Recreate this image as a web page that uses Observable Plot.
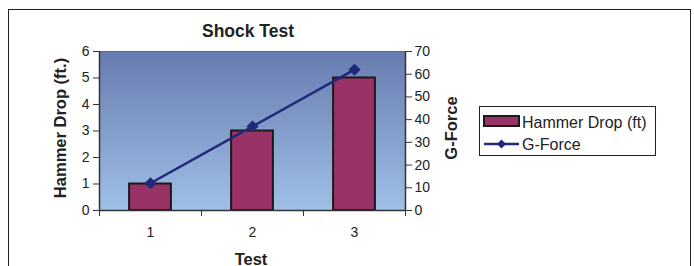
<!DOCTYPE html>
<html><head><meta charset="utf-8">
<script src="https://cdn.jsdelivr.net/npm/d3@7"></script>
<script src="https://cdn.jsdelivr.net/npm/@observablehq/plot@0.6"></script>
<style>
body{margin:0;background:#fff;font-family:Arial,"Liberation Sans",sans-serif;color:#222;}
#wrap{position:relative;width:694px;height:266px;overflow:hidden;}
#border{position:absolute;left:8px;top:9px;width:683px;height:320px;border:1px solid #222;box-sizing:border-box;}
.lbl{position:absolute;font-weight:bold;font-size:16.5px;white-space:nowrap;line-height:1;}
#title{font-size:17.5px;left:248px;top:23px;transform:translateX(-50%);}
#xl{left:251px;top:251px;transform:translateX(-50%);}
#yl{left:60px;top:128px;transform:translate(-50%,-50%) rotate(-90deg);}
#yr{left:451px;top:128px;transform:translate(-50%,-50%) rotate(-90deg);}
#legend{position:absolute;left:479px;top:106px;width:177px;height:50px;border:1px solid #222;box-sizing:border-box;background:#fff;}
#legend svg{position:absolute;left:0;top:0;}
#chart{position:absolute;left:0;top:0;}
</style></head>
<body>
<div id="wrap">
  <div id="border"></div>
  <div id="chart"></div>
  <div class="lbl" id="title">Shock Test</div>
  <div class="lbl" id="xl">Test</div>
  <div class="lbl" id="yl">Hammer Drop (ft.)</div>
  <div class="lbl" id="yr">G-Force</div>
  <div id="legend"></div>
</div>
<script>
const tests = [1, 2, 3];
const hammerDrop = [1, 3, 5];
const gForce = [12, 37, 62];
const leftTicks = [0, 1, 2, 3, 4, 5, 6];
const rightTicks = [0, 10, 20, 30, 40, 50, 60, 70];
const seriesNames = ["Hammer Drop (ft)", "G-Force"];

const barColor = "#993366";
const lineColor = "#22287a";
const k = 6 / 70;
const data = tests.map((t, i) => ({test: t, hammer: hammerDrop[i], g: gForce[i]}));
const bounds = [0.5, 1.5, 2.5, 3.5];

const defs = () => {
  const d = d3.create("svg:defs");
  d.html(`<linearGradient id="bg" x1="0" y1="0" x2="0" y2="1"><stop offset="0" stop-color="#687bb0"/><stop offset="1" stop-color="#9fc0e7"/></linearGradient>`);
  return d.node();
};

const chart = Plot.plot({
  width: 694, height: 266,
  marginLeft: 99, marginRight: 289, marginTop: 51, marginBottom: 56,
  style: {fontFamily: "Arial, 'Liberation Sans', sans-serif", fontSize: "14px", color: "#222", background: "transparent"},
  x: {type: "linear", domain: [0.5, 3.5]},
  y: {domain: [0, 6]},
  marks: [
    defs,
    Plot.frame({fill: "url(#bg)", stroke: "#666"}),
    Plot.rectY(data, {x1: d => d.test - 0.205, x2: d => d.test + 0.205, y: "hammer", fill: barColor, stroke: "#1a1a1a", strokeWidth: 2}),
    Plot.line(data, {x: "test", y: d => d.g * k, stroke: lineColor, strokeWidth: 2.5}),
    Plot.dot(data, {x: "test", y: d => d.g * k, symbol: "diamond2", fill: lineColor, stroke: lineColor, r: 4.5}),
    Plot.axisY({ticks: leftTicks, tickSize: 6, tickPadding: 4, label: null, fontSize: 14, tickFormat: d => String(d), stroke: "#333"}),
    Plot.axisY({anchor: "right", ticks: rightTicks.map(v => v * k), tickFormat: d => String(Math.round(d / k)), tickSize: 6, tickPadding: 3, label: null, fontSize: 14, stroke: "#333"}),
    Plot.axisX({ticks: tests, tickSize: 0, tickPadding: 17, label: null, fontSize: 14, tickFormat: d => String(d)}),
    Plot.axisX({ticks: bounds, tickSize: 6, tickFormat: () => "", label: null, stroke: "#333"}),
    Plot.ruleY([0], {stroke: "#333", strokeWidth: 1.5}),
    Plot.ruleX([0.5, 3.5], {stroke: "#333", strokeWidth: 1.5})
  ]
});
document.getElementById("chart").appendChild(chart);

// legend
const lg = d3.select("#legend").append("svg").attr("width", 177).attr("height", 50);
lg.append("rect").attr("x", 4).attr("y", 9).attr("width", 35).attr("height", 10)
  .attr("fill", barColor).attr("stroke", "#1a1a1a").attr("stroke-width", 2);
lg.append("line").attr("x1", 4).attr("x2", 39).attr("y1", 37).attr("y2", 37)
  .attr("stroke", lineColor).attr("stroke-width", 2.5);
lg.append("path").attr("d", d3.symbol(d3.symbolSquare, 40)()).attr("transform", "translate(21.5,37) rotate(45)").attr("fill", lineColor);
lg.selectAll("text.t").data(seriesNames).join("text")
  .attr("x", 42).attr("y", (d, i) => 15 + i * 22).attr("dy", "0.35em")
  .attr("font-size", 16).attr("fill", "#222").attr("font-family", "Arial, 'Liberation Sans', sans-serif")
  .text(d => d);
</script>
</body></html>
